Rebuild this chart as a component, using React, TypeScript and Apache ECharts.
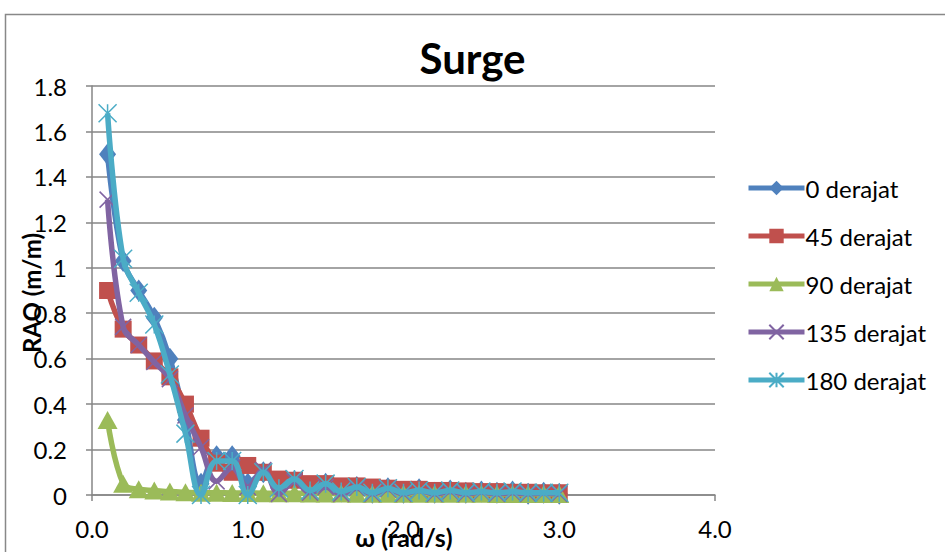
import React, { useEffect, useRef } from 'react';
import * as echarts from 'echarts';

const omega = [0.1, 0.2, 0.3, 0.4, 0.5, 0.6, 0.7, 0.8, 0.9, 1.0, 1.1, 1.2, 1.3, 1.4, 1.5, 1.6, 1.7, 1.8, 1.9, 2.0, 2.1, 2.2, 2.3, 2.4, 2.5, 2.6, 2.7, 2.8, 2.9, 3.0];

const deg0 = [1.50, 1.03, 0.90, 0.78, 0.60, 0.33, 0.05, 0.17, 0.17, 0.05, 0.10, 0.03, 0.06, 0.02, 0.05, 0.015, 0.035, 0.01, 0.03, 0.01, 0.025, 0.01, 0.02, 0.01, 0.015, 0.01, 0.015, 0.005, 0.01, 0.005];
const deg45 = [0.90, 0.73, 0.66, 0.59, 0.52, 0.40, 0.25, 0.14, 0.10, 0.13, 0.10, 0.07, 0.065, 0.05, 0.05, 0.04, 0.04, 0.035, 0.03, 0.025, 0.025, 0.02, 0.02, 0.018, 0.015, 0.015, 0.012, 0.012, 0.01, 0.01];
const deg90 = [0.33, 0.05, 0.025, 0.02, 0.015, 0.012, 0.01, 0.01, 0.009, 0.009, 0.008, 0.008, 0.008, 0.007, 0.007, 0.007, 0.006, 0.006, 0.006, 0.006, 0.005, 0.005, 0.005, 0.005, 0.005, 0.004, 0.004, 0.004, 0.004, 0.004];
const deg135 = [1.30, 0.74, 0.66, 0.585, 0.51, 0.35, 0.21, 0.06, 0.12, 0.035, 0.11, 0.005, 0.06, 0.01, 0.035, 0.005, 0.03, 0.005, 0.025, 0.005, 0.02, 0.005, 0.015, 0.005, 0.012, 0.005, 0.01, 0.005, 0.008, 0.004];
const deg180 = [1.68, 1.04, 0.89, 0.75, 0.53, 0.27, 0.0, 0.15, 0.15, 0.0, 0.10, 0.03, 0.07, 0.02, 0.05, 0.015, 0.035, 0.01, 0.03, 0.01, 0.02, 0.01, 0.02, 0.01, 0.015, 0.01, 0.015, 0.01, 0.01, 0.01];

const seriesNames = ['0 derajat', '45 derajat', '90 derajat', '135 derajat', '180 derajat'];
const seriesValues = [deg0, deg45, deg90, deg135, deg180];
const colors = ['#4F81BD', '#C0504D', '#9BBB59', '#8064A2', '#4BACC6'];
const symbols = [
  'diamond',
  'rect',
  'triangle',
  'path://M0,0L10,10M10,0L0,10',
  'path://M5,0L5,10M0,0L10,10M10,0L0,10',
];
const symbolSizes = [[17, 22], 17, [20, 18], 16, 18];

const FONT = 'Lato';

export default function App() {
  const ref = useRef<HTMLDivElement>(null);
  useEffect(() => {
    const chart = echarts.init(ref.current!, null, { renderer: 'svg' });
    const series = seriesNames.map((name, k) => ({
      name,
      type: 'line',
      smooth: 0.4,
      showSymbol: true,
      showAllSymbol: true,
      symbol: symbols[k],
      symbolSize: symbolSizes[k],
      data: omega.map((x, i) => [x, seriesValues[k][i]]),
      lineStyle: { color: colors[k], width: 5.5 },
      itemStyle: {
        color: colors[k],
        borderColor: colors[k],
        borderWidth: k >= 3 ? 1.5 : 0,
      },
      z: 2 + k,
    }));
    chart.setOption({
      animation: false,
      backgroundColor: '#ffffff',
      title: {
        text: 'Surge',
        left: 'center',
        top: 32,
        textStyle: { fontFamily: FONT, fontSize: 42, fontWeight: 'bold', color: '#000' },
      },
      grid: { left: 92, right: 230, top: 86, bottom: 57 },
      legend: {
        orient: 'vertical',
        left: 746,
        top: 176,
        padding: 0,
        itemWidth: 56,
        itemHeight: 18,
        itemGap: 24,
        lineStyle: { width: 5 },
        textStyle: { fontFamily: FONT, fontSize: 24, color: '#000', padding: [0, 0, 0, -4] },
        data: seriesNames,
      },
      xAxis: {
        type: 'value',
        min: 0,
        max: 4,
        interval: 1,
        axisLine: { lineStyle: { color: '#868686', width: 1.5 } },
        axisTick: { show: true, length: 6, lineStyle: { color: '#868686', width: 1.5 } },
        splitLine: { show: false },
        axisLabel: {
          margin: 21,
          fontFamily: FONT,
          fontSize: 24,
          color: '#000',
          formatter: (v: number) => v.toFixed(1),
        },
      },
      yAxis: {
        type: 'value',
        min: 0,
        max: 1.8,
        interval: 0.2,
        axisLine: { show: true, lineStyle: { color: '#868686', width: 1.5 } },
        axisTick: { show: true, length: 6, lineStyle: { color: '#868686', width: 1.5 } },
        splitLine: { show: true, lineStyle: { color: '#868686', width: 1.5 } },
        axisLabel: {
          margin: 25,
          fontFamily: FONT,
          fontSize: 24,
          color: '#000',
          formatter: (v: number) => String(Math.round(v * 10) / 10),
        },
      },
      graphic: [
        {
          type: 'rect',
          left: 3,
          top: 12,
          z: -10,
          shape: { x: 0, y: 0, width: 1000, height: 600 },
          style: { fill: 'none', stroke: '#888888', lineWidth: 1.5 },
          silent: true,
        },
        {
          type: 'text',
          x: 31,
          y: 293,
          rotation: Math.PI / 2,
          z: 100,
          style: {
            text: 'RAO (m/m)',
            fontFamily: FONT,
            fontSize: 24,
            fontWeight: 'bold',
            fill: '#000',
            align: 'center',
            verticalAlign: 'middle',
          },
        },
        {
          type: 'text',
          x: 404,
          y: 537,
          z: 100,
          style: {
            text: 'ω (rad/s)',
            fontFamily: FONT,
            fontSize: 25,
            fontWeight: 'bold',
            fill: '#000',
            align: 'center',
            verticalAlign: 'middle',
          },
        },
      ],
      series,
    });
    return () => chart.dispose();
  }, []);
  return (
    <div
      ref={ref}
      style={{ position: 'fixed', left: 0, top: 0, width: 945, height: 552, background: '#fff' }}
    />
  );
}
